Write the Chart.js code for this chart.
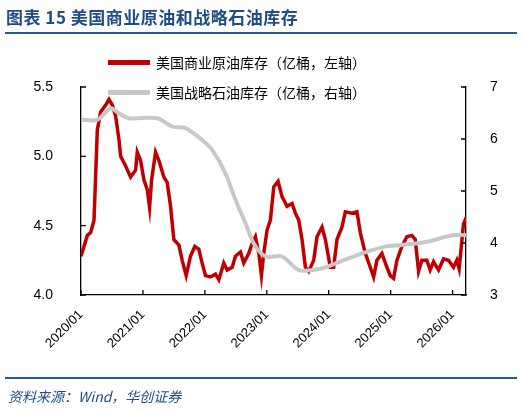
<!DOCTYPE html>
<html><head><meta charset="utf-8">
<script src="https://cdn.jsdelivr.net/npm/chart.js@4"></script>
<style>
body{margin:0;width:524px;height:413px;background:#fff;position:relative;overflow:hidden;font-family:"Noto Sans CJK SC",sans-serif}
#title{position:absolute;left:6px;top:4px;font-size:17px;font-weight:bold;color:#1f4b87;letter-spacing:0.5px}
.hr{position:absolute;left:5px;width:512px;height:2px;background:#2a5a96}
#src{position:absolute;left:8px;top:386px;font-size:14px;font-style:italic;color:#1f4b87}
.lg{position:absolute;left:108px;font-size:14px;color:#000;display:flex;align-items:center}
.lg span{display:inline-block;width:42px;height:5px;margin-right:6px}
#wrap{position:absolute;left:0;top:0;width:524px;height:413px}
</style></head><body>
<div id="wrap"><canvas id="c" width="524" height="413" style="width:524px;height:413px"></canvas></div>
<div id="title">图表 15 美国商业原油和战略石油库存</div>
<div class="hr" style="top:32px"></div>
<div class="lg" style="top:52px"><span style="background:#c00000"></span>美国商业原油库存（亿桶，左轴）</div>
<div class="lg" style="top:82px"><span style="background:#c8c8c8"></span>美国战略石油库存（亿桶，右轴）</div>
<div class="hr" style="top:377px"></div>
<div id="src">资料来源：Wind，华创证券</div>
<script>
// months since 2020/01
const commMonths=[0,0.58,1.23,1.87,2.52,3.16,3.81,4.78,5.42,6.07,6.71,7.36,7.68,8.65,9.61,10.58,10.9,11.55,12.19,12.84,13.29,13.68,14.45,15.1,16.06,16.71,17.35,17.99,18.97,19.61,20.38,21.22,22.06,22.84,23.48,24.13,25.09,26.06,26.71,27.67,28.32,29.29,29.93,30.9,31.54,32.51,33.16,33.8,34.45,34.96,35.41,36.06,36.7,37.35,38.19,38.96,39.93,40.9,41.54,42.19,42.83,43.48,44.12,45.09,45.73,46.7,47.35,48.31,48.96,49.6,50.57,51.22,52.51,53.47,54.12,55.09,56.05,56.7,57.34,58.31,59.28,59.92,60.57,61.21,62.18,63.15,64.12,64.76,65.41,66.05,67.02,67.66,68.31,69.28,70.24,71.21,72.18,72.82,73.27,74.11,74.63];
const commValues=[4.28,4.35,4.43,4.45,4.54,5.19,5.32,5.37,5.41,5.37,5.29,5.12,5.0,4.93,4.85,4.9,5.03,4.97,4.83,4.76,4.63,4.83,5.03,4.97,4.85,4.81,4.64,4.4,4.36,4.25,4.14,4.28,4.35,4.33,4.23,4.14,4.13,4.15,4.11,4.23,4.18,4.2,4.28,4.31,4.23,4.3,4.37,4.42,4.3,4.14,4.3,4.47,4.54,4.78,4.82,4.71,4.64,4.66,4.59,4.54,4.4,4.2,4.17,4.25,4.42,4.49,4.4,4.2,4.2,4.4,4.49,4.6,4.59,4.6,4.45,4.3,4.2,4.13,4.25,4.3,4.2,4.14,4.12,4.25,4.35,4.42,4.43,4.4,4.17,4.25,4.25,4.18,4.24,4.18,4.26,4.25,4.2,4.25,4.19,4.51,4.56];
const sprMonths=[0,3.16,5.74,7.36,9.29,14.77,17.67,20.26,23.48,25.42,27.99,29.93,31.87,33.48,35.74,38.96,42.19,46.06,48.64,54.44,58.96,62.18,67.34,71.86,74.63];
const sprValues=[6.37,6.37,6.59,6.49,6.4,6.4,6.24,6.21,5.98,5.79,5.34,4.83,4.38,3.99,3.74,3.74,3.48,3.5,3.58,3.8,3.93,3.96,4.03,4.15,4.15];
const xTickLabels=["2020/01","2021/01","2022/01","2023/01","2024/01","2025/01","2026/01"];
const leftTicks=["4.0","4.5","5.0","5.5"];
const rightTicks=["3","4","5","6","7"];

const inTicks={id:'inTicks',afterDraw(ch){
  const g=ch.ctx,a=ch.chartArea,x=ch.scales.x,y=ch.scales.y,y2=ch.scales.y2;
  g.save();g.strokeStyle='#000';g.lineWidth=1.3;g.beginPath();
  xTickLabels.forEach((_,i)=>{const p=x.getPixelForValue(i*12);g.moveTo(p,a.bottom);g.lineTo(p,a.bottom-5);});
  leftTicks.forEach(v=>{const p=y.getPixelForValue(+v);g.moveTo(a.left,p);g.lineTo(a.left+5,p);});
  rightTicks.forEach(v=>{const p=y2.getPixelForValue(+v);g.moveTo(a.right,p);g.lineTo(a.right-5,p);});
  g.stroke();g.restore();}};

new Chart(document.getElementById('c'),{type:'line',
 data:{datasets:[
  {data:sprMonths.map((m,i)=>({x:m,y:sprValues[i]})),yAxisID:'y2',borderColor:'#c8c8c8',borderWidth:4,pointRadius:0,tension:0.3},
  {data:commMonths.map((m,i)=>({x:m,y:commValues[i]})),yAxisID:'y',borderColor:'#c00000',borderWidth:3.5,pointRadius:0,tension:0}
 ]},
 options:{responsive:false,animation:false,events:[],
  layout:{padding:{top:87}},
  plugins:{legend:{display:false},tooltip:{enabled:false}},
  scales:{
   x:{type:'linear',min:0,max:74.6,afterFit:s=>{s.height=118},
     afterBuildTicks:s=>{s.ticks=xTickLabels.map((_,i)=>({value:i*12}))},
     ticks:{autoSkip:false,maxRotation:45,minRotation:45,color:'#000',font:{family:'Liberation Sans',size:13},padding:4,
       callback:(v,i)=>xTickLabels[i]},
     grid:{display:false},border:{color:'#000',width:1.3}},
   y:{position:'left',min:4,max:5.5,afterFit:s=>{s.width=81},
     afterBuildTicks:s=>{s.ticks=leftTicks.map(v=>({value:+v}))},
     ticks:{color:'#000',font:{family:'Liberation Sans',size:14},padding:20,callback:(v,i)=>leftTicks[i]},
     grid:{display:false},border:{color:'#000',width:1.3}},
   y2:{position:'right',min:3,max:7,afterFit:s=>{s.width=58},
     afterBuildTicks:s=>{s.ticks=rightTicks.map(v=>({value:+v}))},
     ticks:{color:'#000',font:{family:'Liberation Sans',size:14},padding:16,callback:(v,i)=>rightTicks[i]},
     grid:{display:false},border:{color:'#000',width:1.3}}
  }},
 plugins:[inTicks]});
</script>
</body></html>
